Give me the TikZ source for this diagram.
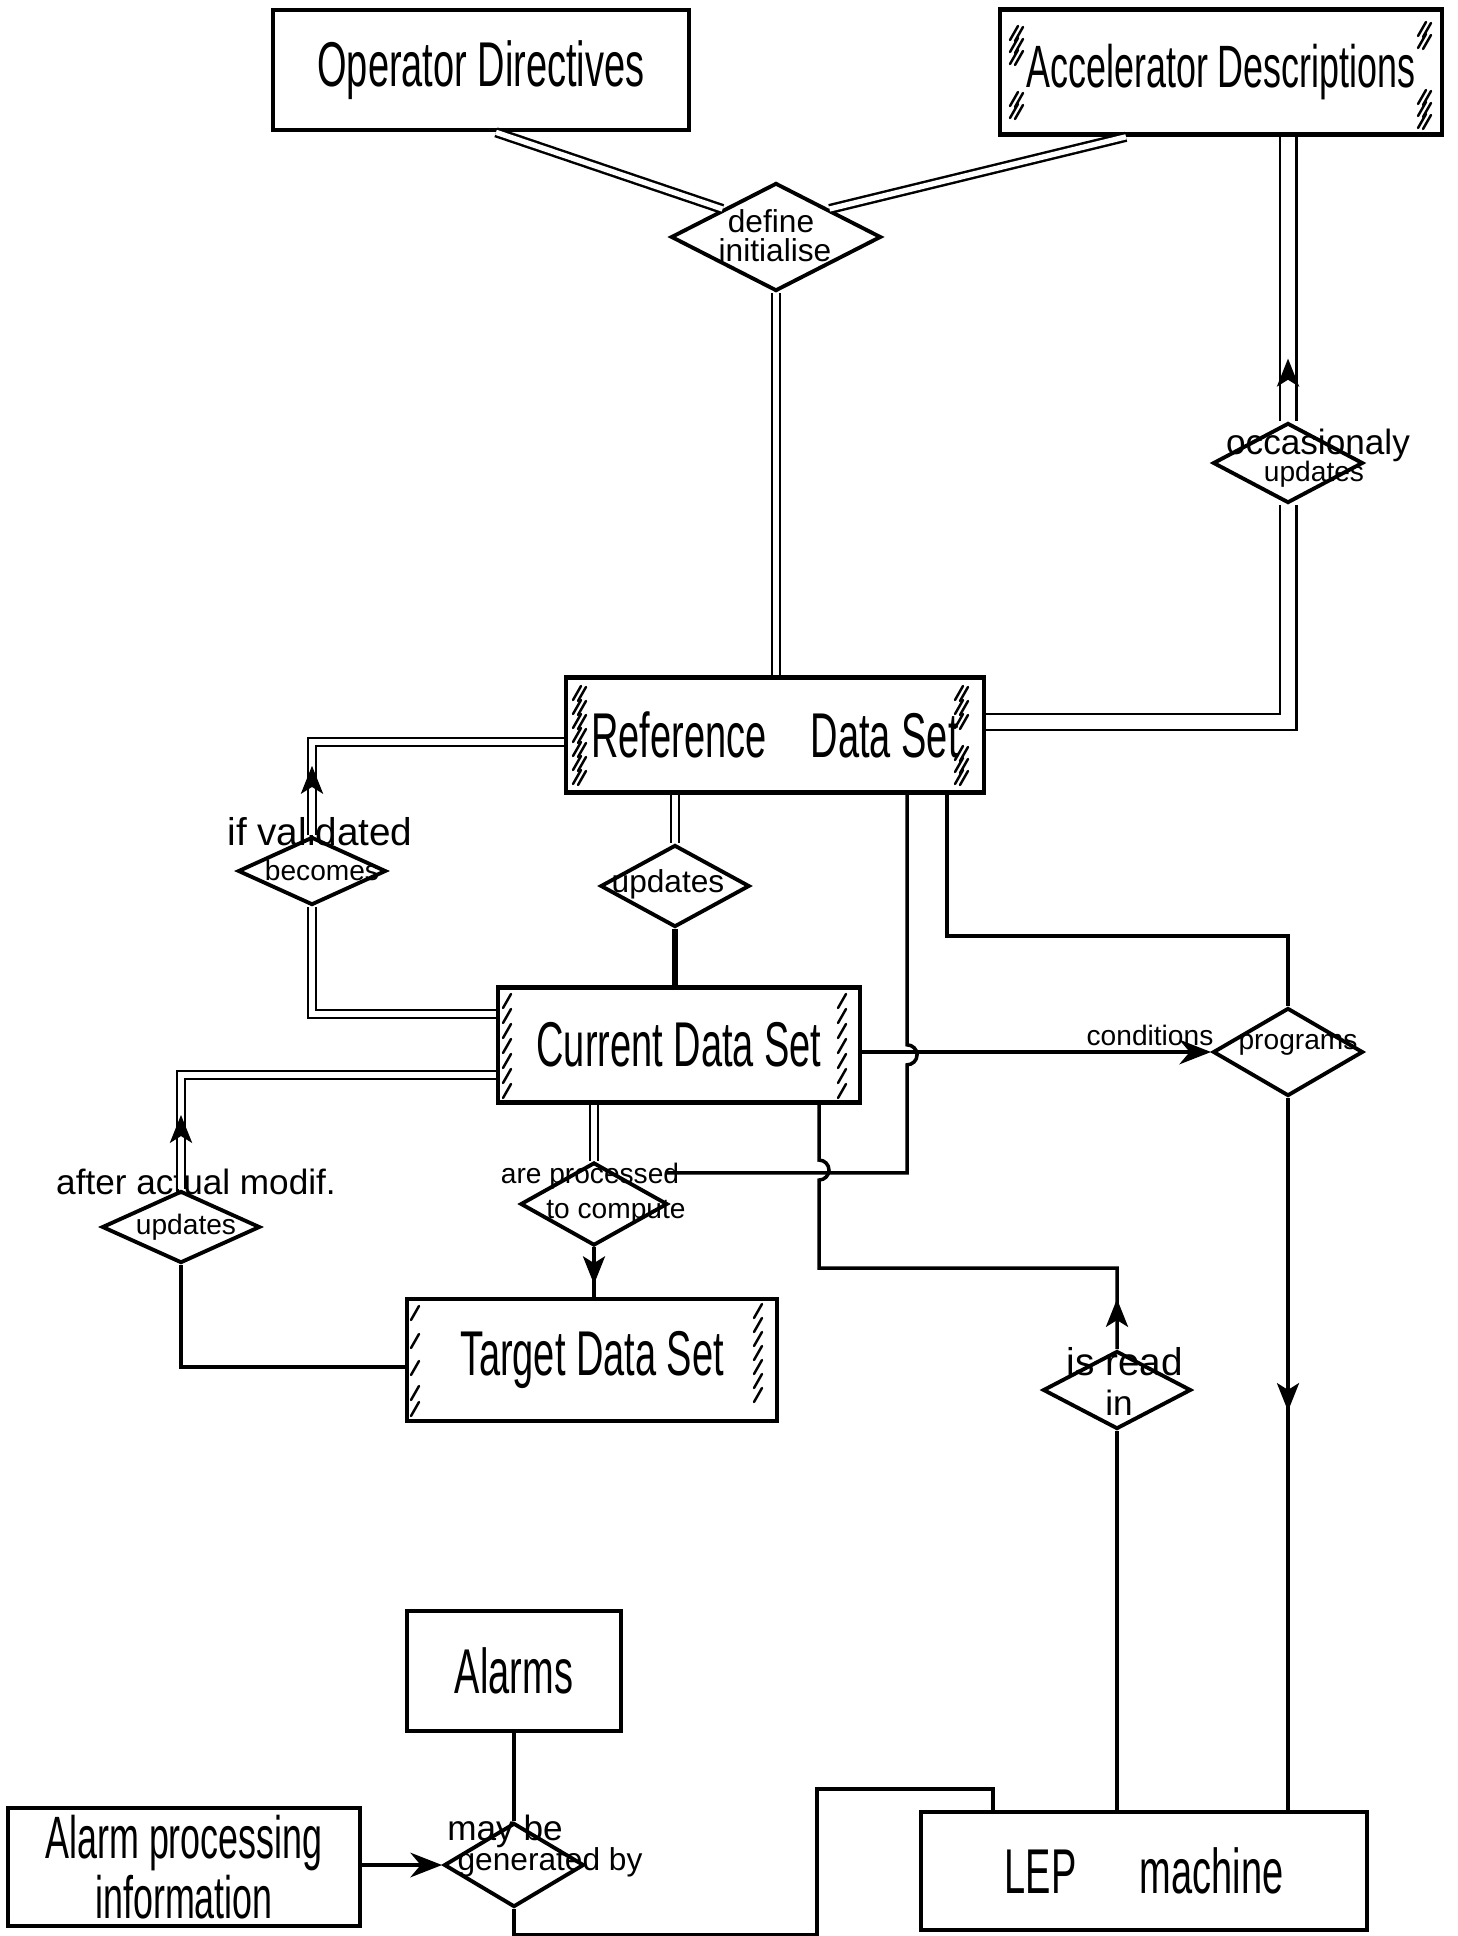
\documentclass[tikz,border=0pt]{standalone}
\usepackage{fontspec}
\setmainfont{Liberation Sans}
\newfontfamily\boxfont[FakeStretch=0.6]{Liberation Sans}
\usetikzlibrary{shapes.geometric,arrows.meta,decorations.markings}

\begin{document}
\begin{tikzpicture}[x=0.01cm, y=-0.01cm,
  entity/.style={draw, line width=1.3pt, inner sep=0pt, font=\boxfont\fontsize{18}{20}\selectfont},
  relation/.style={draw, diamond, line width=1.1pt, inner sep=0pt},
  lbl/.style={inner sep=0pt, font=\fontsize{9}{9}\selectfont},
  conn/.style={line width=1pt},
  dbl/.style={double, double distance=#1, line width=0.7pt},
  dbl/.default=1.5pt,
  hatch/.style={line width=0.7pt, line cap=round},
  midarrow/.style={postaction={decorate, decoration={markings,
      mark=at position #1 with {\fill (4pt,0) -- (-4pt,3.2pt) -- (-2pt,0) -- (-4pt,-3.2pt) -- cycle;}}}}]
  \useasboundingbox (0,0) rectangle (1458,1936);

  % entities
  \node[entity, minimum width=4.16cm, minimum height=1.2cm] (op) at (481,70) {Operator Directives};
  \node[entity, minimum width=4.42cm, minimum height=1.25cm,
        font=\boxfont\fontsize{17}{20}\selectfont] (acc) at (1221,72) {Accelerator Descriptions};
  \node[entity, minimum width=4.18cm, minimum height=1.15cm] (ref) at (775,735) {Reference\hspace{0.7em}Data Set};
  \node[entity, minimum width=3.62cm, minimum height=1.15cm] (cur) at (679,1045) {Current Data Set};
  \node[entity, minimum width=3.70cm, minimum height=1.22cm] (tgt) at (592,1360) {Target Data Set};
  \node[entity, minimum width=2.14cm, minimum height=1.2cm] (alarms) at (514,1671) {Alarms};
  \node[entity, minimum width=3.52cm, minimum height=1.18cm, align=center,
        font=\boxfont\fontsize{17}{15}\selectfont] (api) at (184,1867) {Alarm processing\\information};
  \node[entity, minimum width=4.46cm, minimum height=1.18cm] (lep) at (1144,1871) {LEP\hspace{1em}machine};

  % relations
  \node[relation, minimum width=2.10cm, minimum height=1.08cm] (di) at (776,237) {};
  \node[relation, minimum width=1.50cm, minimum height=0.80cm] (occ) at (1288,463) {};
  \node[relation, minimum width=1.48cm, minimum height=0.68cm] (ivb) at (312,871) {};
  \node[relation, minimum width=1.49cm, minimum height=0.82cm] (upd) at (675,886) {};
  \node[relation, minimum width=1.50cm, minimum height=0.88cm] (prog) at (1288,1052) {};
  \node[relation, minimum width=1.47cm, minimum height=0.83cm] (apc) at (594,1204) {};
  \node[relation, minimum width=1.58cm, minimum height=0.72cm] (aam) at (181,1227) {};
  \node[relation, minimum width=1.48cm, minimum height=0.78cm] (isread) at (1117,1390) {};
  \node[relation, minimum width=1.40cm, minimum height=0.84cm] (mbg) at (514,1865) {};

  % relation texts
  \node[lbl] (di-a) at (771,221) {define};
  \node[lbl] (di-b) at (775,250) {initialise};
  \node[lbl, font=\fontsize{10}{10}\selectfont] (occ-a) at (1318,445) {occasionaly};
  \node[lbl, font=\fontsize{8}{8}\selectfont] (occ-b) at (1314,474) {updates};
  \node[lbl, font=\fontsize{11}{11}\selectfont] (ivb-a) at (320,832) {if validated};
  \node[lbl, font=\fontsize{8}{8}\selectfont] (ivb-b) at (322,870) {becomes};
  \node[lbl] (upd-a) at (668,884) {updates};
  \node[lbl, font=\fontsize{8}{8}\selectfont] (cond) at (1150,1035) {conditions};
  \node[lbl, font=\fontsize{8}{8}\selectfont] (prog-a) at (1298,1045) {programs};
  \node[lbl, font=\fontsize{8}{8}\selectfont] (apc-a) at (590,1176) {are processed};
  \node[lbl, font=\fontsize{8}{8}\selectfont] (apc-b) at (616,1212) {to compute};
  \node[lbl, font=\fontsize{10}{10}\selectfont] (aam-a) at (196,1182) {after actual modif.};
  \node[lbl, font=\fontsize{8}{8}\selectfont] (aam-b) at (186,1227) {updates};
  \node[lbl, font=\fontsize{11}{11}\selectfont] (isread-a) at (1125,1362) {is read};
  \node[lbl, font=\fontsize{10}{10}\selectfont] (isread-b) at (1119,1403) {in};
  \node[lbl, font=\fontsize{10}{10}\selectfont] (mbg-a) at (505,1831) {may be};
  \node[lbl] (mbg-b) at (550,1862) {generated by};

  % hatching
  \foreach \y in {40,52,64,106,118} \draw[hatch] (1010,\y) -- ++(8,-14) (1015,\y+1) -- ++(8,-14);
  \foreach \y in {36,48,104,116,128} \draw[hatch] (1418,\y) -- ++(8,-14) (1423,\y+1) -- ++(8,-14);
  \foreach \y in {700,714,728,742,756,770,784} \draw[hatch] (573,\y) -- ++(8,-14) (578,\y+1) -- ++(8,-14);
  \foreach \y in {700,714,728,760,772,784} \draw[hatch] (955,\y) -- ++(8,-14) (960,\y+1) -- ++(8,-14);
  \foreach \y in {1008,1023,1038,1053,1068,1083,1098} \draw[hatch] (503,\y) -- ++(8,-14);
  \foreach \y in {1008,1023,1038,1053,1068,1083,1098} \draw[hatch] (838,\y) -- ++(8,-14);
  \foreach \y in {1320,1348,1375,1400,1416} \draw[hatch] (411,\y) -- ++(8,-14);
  \foreach \y in {1318,1332,1346,1360,1374,1388,1402} \draw[hatch] (754,\y) -- ++(8,-14);

  % connectors
  \draw[dbl] ([xshift=0.15cm]op.south) -- (di.north west);
  \draw[dbl] ([xshift=-0.95cm]acc.south) -- (di.north east);
  \draw[dbl] (di.south) -- (di.south |- ref.north);
  \draw[dbl=4pt, midarrow=0.17] (occ.north) -- (occ.north |- acc.south);
  \draw[dbl=4pt] (occ.south) |- ([yshift=0.13cm]ref.east);
  \draw[dbl, midarrow=0.16] (ivb.north) |- ([yshift=-0.07cm]ref.west);
  \draw[dbl] (ivb.south) |- ([yshift=0.31cm]cur.west);
  \draw[dbl] (upd.north |- ref.south) -- (upd.north);
  \draw[conn, line width=1.6pt] (upd.south) -- (upd.south |- cur.north);
  \draw[conn] ([xshift=1.72cm]ref.south) -- ++(0,141) -| (prog.north);
  \draw[conn] ([xshift=1.32cm]ref.south) -- ++(0,250) arc[start angle=-90, end angle=90, radius=10]
    -- ++(0,108) -- ++(-240,0);
  \draw[conn, midarrow=0.065] (isread.north) -- ++(0,-81) -- ++(-298,0) -- ++(0,-88)
    arc[start angle=90, end angle=-90, radius=10] -- ([xshift=1.40cm]cur.south);
  \draw[conn, -{Stealth[length=9pt, width=7pt]}] (cur.east |- prog.west) -- (prog.west);
  \draw[conn, midarrow=0.42] (prog.south) -- (prog.south |- lep.north);
  \draw[conn] (isread.south) -- (isread.south |- lep.north);
  \draw[dbl] (cur.south -| apc.north) -- (apc.north);
  \draw[conn, midarrow=0.46] (apc.south) -- (apc.south |- tgt.north);
  \draw[dbl, midarrow=0.14] (aam.north) |- ([yshift=-0.30cm]cur.west);
  \draw[conn] (aam.south) |- ([yshift=-0.07cm]tgt.west);
  \draw[conn] (alarms.south) -- (mbg.north);
  \draw[conn, -{Stealth[length=9pt, width=7pt]}] (api.east |- mbg.west) -- (mbg.west);
  \draw[conn] (mbg.south) -- ++(0,26) -- ++(303,0) -- ++(0,-146) -| ([xshift=-1.51cm]lep.north);
\end{tikzpicture}
\end{document}
